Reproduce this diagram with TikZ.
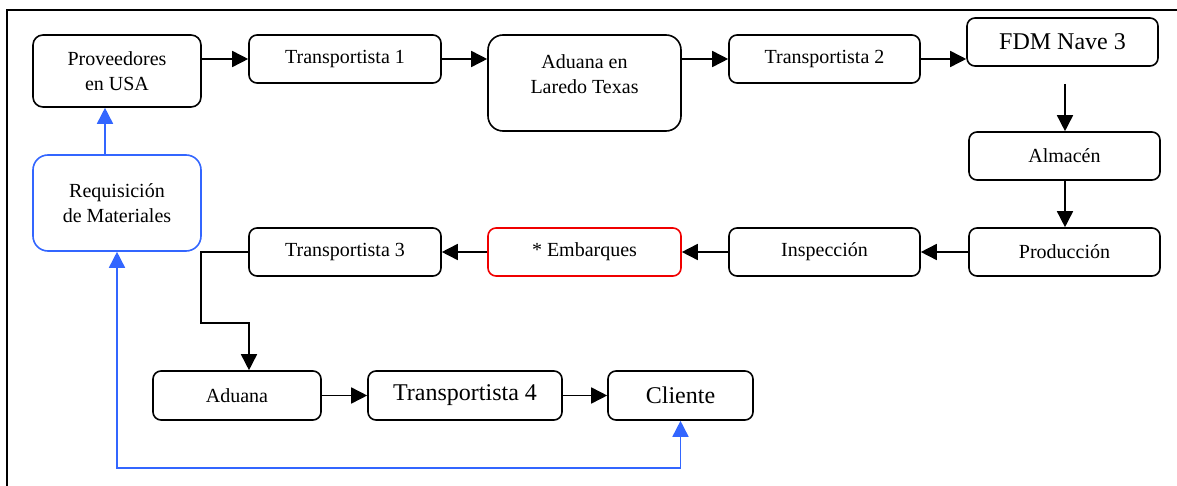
\documentclass[tikz,border=0pt]{standalone}
\usepackage{fontspec}
\setmainfont{Liberation Serif}
\usetikzlibrary{arrows.meta,calc}
\definecolor{reqblue}{RGB}{51,102,255}
\definecolor{embred}{RGB}{240,0,0}
\tikzset{
  x=1pt, y=-1pt,
  box/.style={draw, line width=1.6pt, rounded corners=8pt, inner sep=0pt,
    align=center, font=\fontsize{20}{25}\selectfont},
  bigtext/.style={font=\fontsize{24}{28}\selectfont},
  tip/.tip={Triangle[length=16pt,width=16pt]},
  flow/.style={line width=1.6pt, -tip},
  backflow/.style={flow, reqblue},
}
\begin{document}
\begin{tikzpicture}
\useasboundingbox (0,0) rectangle (1177,486);
% open frame (top and left edges)
\draw[line width=1.6pt] (1177,10) -- (7,10) -- (7,486);

% top row
\node[box, rounded corners=10pt, minimum width=168pt, minimum height=72pt] (prov) at (117,71) {Proveedores\\en USA};
\node[box, minimum width=192pt, minimum height=48pt] (t1) at (345,59) {Transportista 1};
\node[box, rounded corners=15pt, minimum width=193pt, minimum height=96pt] (lar) at (584.5,83) {};
\node[align=center, font=\fontsize{20}{25}\selectfont, anchor=north] (lartext) at ($(lar.north)+(0,17)$) {Aduana en\\Laredo Texas};
\node[box, minimum width=191pt, minimum height=48pt] (t2) at (824.5,59) {Transportista 2};
\node[box, bigtext, minimum width=191pt, minimum height=48pt] (fdm) at (1062.5,42) {FDM Nave 3};

% right column
\node[box, minimum width=191pt, minimum height=48pt] (alm) at (1064.5,156) {Almacén};
\node[box, minimum width=191pt, minimum height=48pt] (prod) at (1064.5,252) {Producción};

% middle row
\node[box, minimum width=191pt, minimum height=48pt] (insp) at (824.5,252) {Inspección};
\node[box, draw=embred, minimum width=193pt, minimum height=48pt] (emb) at (584.5,252) {* Embarques};
\node[box, minimum width=192pt, minimum height=48pt] (t3) at (345,252) {Transportista 3};
\node[box, draw=reqblue, rounded corners=15pt, minimum width=168pt, minimum height=96pt] (req) at (117,203) {Requisición\\de Materiales};

% bottom row
\node[box, minimum width=168pt, minimum height=49pt] (adu) at (237,395.5) {Aduana};
\node[box, bigtext, minimum width=194pt, minimum height=49pt] (t4) at (465,395.5) {Transportista 4};
\node[box, bigtext, minimum width=145pt, minimum height=49pt] (cli) at (680.5,395.5) {Cliente};

% main flow
\draw[flow] (prov.east |- t1.west) -- (t1.west);
\draw[flow] (t1.east) -- (t1.east -| lar.west);
\draw[flow] (t1.east -| lar.east) -- (t2.west);
\draw[flow] (t2.east) -- (t2.east -| fdm.west);
\draw[flow, shorten <=17pt] ([xshift=2.5pt]fdm.south) -- ([xshift=0.5pt]alm.north);
\draw[flow] ([xshift=0.5pt]alm.south) -- ([xshift=0.5pt]prod.north);
\draw[flow] (prod.west) -- (insp.east);
\draw[flow] (insp.west) -- (emb.east);
\draw[flow] (emb.west) -- (t3.east);
\coordinate (bend) at (201,323);
\draw[flow] (t3.west) -| (bend) -| ([xshift=12pt]adu.north);
\draw[flow] (adu.east) -- (t4.west);
\draw[flow] (t4.east) -- (cli.west);

% requisition loop
\coordinate (low) at (0,468);
\draw[backflow] ([xshift=-12pt]req.north) -- ([xshift=-12pt]prov.south);
\draw[backflow, tip-tip] (req.south) -- (req.south |- low) -| (cli.south);
\end{tikzpicture}
\end{document}
